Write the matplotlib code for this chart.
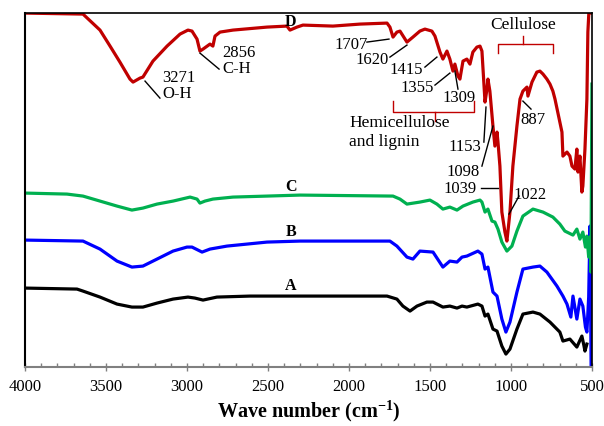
import matplotlib
matplotlib.use("Agg")
import matplotlib.pyplot as plt
import numpy as np

plt.rcParams['font.family'] = ['Liberation Serif', 'DejaVu Serif']
plt.rcParams['mathtext.fontset'] = 'custom'
plt.rcParams['mathtext.rm'] = 'Liberation Serif'
plt.rcParams['mathtext.bf'] = 'Liberation Serif:bold'

# spectra: wavenumber (cm-1) and offset transmittance (a.u.)
wn_d = [4000, 3642, 3537, 3475, 3414, 3352, 3333, 3290, 3272, 3210, 3123, 3043, 2994, 2969,
        2938, 2920, 2901, 2858, 2840, 2827, 2796, 2716, 2506, 2383, 2364, 2321, 2284, 2099,
        1932, 1765, 1747, 1728, 1704, 1685, 1642, 1605, 1562, 1531, 1488, 1469, 1438, 1420,
        1395, 1377, 1358, 1346, 1327, 1315, 1296, 1272, 1253, 1235, 1210, 1191, 1179, 1160,
        1148, 1142, 1130, 1111, 1099, 1086, 1080, 1068, 1056, 1037, 1025, 1019, 1006, 988,
        963, 944, 926, 901, 895, 870, 840, 821, 802, 778, 759, 741, 728, 698, 685, 679, 654,
        636, 623, 605, 593, 586, 574, 562, 556, 543, 531, 525, 519, 500]
tr_d = [354, 353, 337, 321, 305, 288, 285, 289, 290, 306, 321, 333, 337, 336,
        328, 316, 318, 323, 321, 331, 335, 337, 340, 341, 337, 340, 342, 341,
        343, 344, 340, 330, 335, 336, 325, 330, 336, 338, 336, 331, 315, 308,
        316, 308, 296, 303, 291, 288, 306, 308, 303, 315, 320, 321, 316, 265,
        278, 288, 276, 241, 221, 235, 225, 201, 155, 135, 126, 135, 155, 201,
        241, 268, 276, 280, 271, 285, 295, 296, 293, 288, 283, 276, 268, 245, 235, 211, 215,
        211, 201, 198, 218, 195, 211, 175, 181, 218, 268, 335, 354, 354]

wn_c = [4000, 3741, 3642, 3537, 3432, 3340, 3272, 3185, 3086, 2981, 2938, 2920, 2889, 2840,
        2716, 2506, 2302, 1728, 1685, 1642, 1562, 1500, 1457, 1420, 1377, 1333, 1296, 1235,
        1191, 1179, 1160, 1142, 1117, 1099, 1080, 1056, 1025, 994, 963, 926, 864, 802, 741,
        698, 667, 617, 593, 574, 556, 540, 531, 520, 512, 506, 500]
tr_c = [174, 173, 171, 166, 161, 157, 159, 163, 166, 170, 168, 164, 166, 168,
        170, 171, 172, 171, 168, 163, 165, 167, 163, 158, 160, 157, 161, 165,
        167, 165, 155, 158, 146, 145, 138, 125, 116, 121, 136, 151, 158, 155, 150,
        143, 136, 132, 138, 128, 135, 120, 131, 110, 130, 95, 283]

wn_b = [4000, 3642, 3537, 3432, 3340, 3272, 3185, 3086, 3000, 2969, 2907, 2858, 2753, 2506,
        2302, 1747, 1704, 1642, 1605, 1562, 1481, 1420, 1377, 1333, 1302, 1272, 1204, 1179,
        1160, 1142, 1111, 1086, 1056, 1031, 1006, 963, 926, 864, 821, 778, 716, 679, 654,
        630, 617, 593, 574, 556, 540, 531, 520, 512, 505, 500]
tr_b = [127, 126, 118, 106, 100, 101, 108, 116, 120, 120, 115, 118, 121, 125,
        126, 126, 121, 110, 108, 116, 115, 100, 106, 105, 110, 111, 116, 113,
        98, 100, 75, 71, 48, 35, 45, 75, 98, 100, 101, 95, 81, 71, 63,
        50, 71, 48, 68, 61, 40, 35, 70, 141, 0, 0]

wn_a = [4000, 3679, 3642, 3537, 3432, 3340, 3272, 3185, 3086, 2994, 2951, 2901, 2815, 2611,
        2302, 1765, 1704, 1667, 1623, 1580, 1519, 1481, 1420, 1377, 1333, 1302, 1272, 1204,
        1179, 1160, 1142, 1111, 1086, 1056, 1031, 1006, 963, 926, 864, 821, 759, 698, 679,
        636, 593, 562, 550, 543, 531]
tr_a = [79, 78, 76, 70, 63, 60, 60, 64, 68, 70, 69, 67, 70, 71,
        71, 71, 68, 61, 56, 61, 65, 65, 60, 61, 59, 61, 60, 63,
        61, 51, 53, 38, 36, 21, 13, 18, 38, 53, 55, 53, 45, 35, 26,
        28, 20, 31, 22, 16, 23]

series = [("A", wn_a, tr_a, "#000000"), ("B", wn_b, tr_b, "#0000FF"),
          ("C", wn_c, tr_c, "#00B050"), ("D", wn_d, tr_d, "#C00000")]
letter_y = [82, 136, 181, 346]

# band labels: text, text position, pointer start, pointer end, alignment
bands = [("3271\nO-H", (3150, 282), (3259, 286), (3167, 269), "left"),
         ("2856\nC-H", (2780, 307), (2920, 314), (2802, 298), "left"),
         ("1707", (1885, 323), (1889, 325), (1753, 328), "right"),
         ("1620", (1755, 308), (1747, 310), (1642, 322), "right"),
         ("1415", (1540, 298), (1531, 300), (1457, 310), "right"),
         ("1355", (1478, 280), (1469, 282), (1377, 294), "right"),
         ("1309", (1420, 270), (1327, 278), (1346, 296), "left"),
         ("1153", (1185, 221), (1167, 225), (1154, 260), "right"),
         ("1098", (1195, 196), (1179, 201), (1111, 241), "right"),
         ("1039", (1210, 179), (1185, 179), (1080, 179), "right"),
         ("1022", (985, 173), (950, 171), (1012, 153), "left"),
         ("887", (940, 248), (926, 266), (876, 258), "left")]

fig = plt.figure(figsize=(6.04, 4.27), dpi=100)
ax = fig.add_axes([0.0414, 0.138, 0.9386, 0.829])

for name, wn, tr, col in series:
    ax.plot(wn, tr, color=col, lw=2.3, solid_joinstyle='round')

for (name, wn, tr, col), ly in zip(series, letter_y):
    ax.text(2360, ly, name, fontsize=11.5, fontweight='bold', ha='center', va='center')

for txt, tpos, p0, p1, ha in bands:
    ax.text(tpos[0], tpos[1], txt, fontsize=12, ha=ha, va='center', linespacing=1.05)
    ax.plot([p0[0], p1[0]], [p0[1], p1[1]], color='black', lw=1)

# brackets for the two regions
br = '#C00000'
ax.plot([1080, 1080, 741, 741], [314, 323, 323, 314], color=br, lw=1)
ax.plot([926, 926], [323, 331], color=br, lw=1)
ax.text(926, 343, "Cellulose", fontsize=12.5, ha='center', va='center')
ax.plot([1728, 1728, 1229, 1229], [266, 255, 255, 266], color=br, lw=1)
ax.plot([1469, 1469], [255, 246], color=br, lw=1)
ax.text(2000, 236, "Hemicellulose\nand lignin", fontsize=12.5, ha='left', va='center',
        linespacing=1.25)

ax.set_xlim(4000, 500)
ax.set_ylim(0, 354)
ax.set_xticks(np.arange(4000, 499, -500))
ax.set_xticks(np.arange(4000, 499, -100), minor=True)
ax.set_yticks([])
ax.tick_params(axis='x', which='major', direction='inout', length=6, width=1,
               color='#808080', labelsize=12, pad=5)
ax.tick_params(axis='x', which='minor', direction='in', length=3, width=1, color='#808080')
ax.spines['bottom'].set_color('#808080')
ax.spines['bottom'].set_linewidth(1.5)
ax.spines['left'].set_linewidth(1.5)
ax.spines['top'].set_linewidth(1.2)
ax.spines['right'].set_linewidth(1.2)
ax.set_xlabel(r'Wave number (cm$^{\mathbf{-1}}$)', fontsize=14.5, fontweight='bold', labelpad=2)

fig.savefig("out.png", dpi=100)
